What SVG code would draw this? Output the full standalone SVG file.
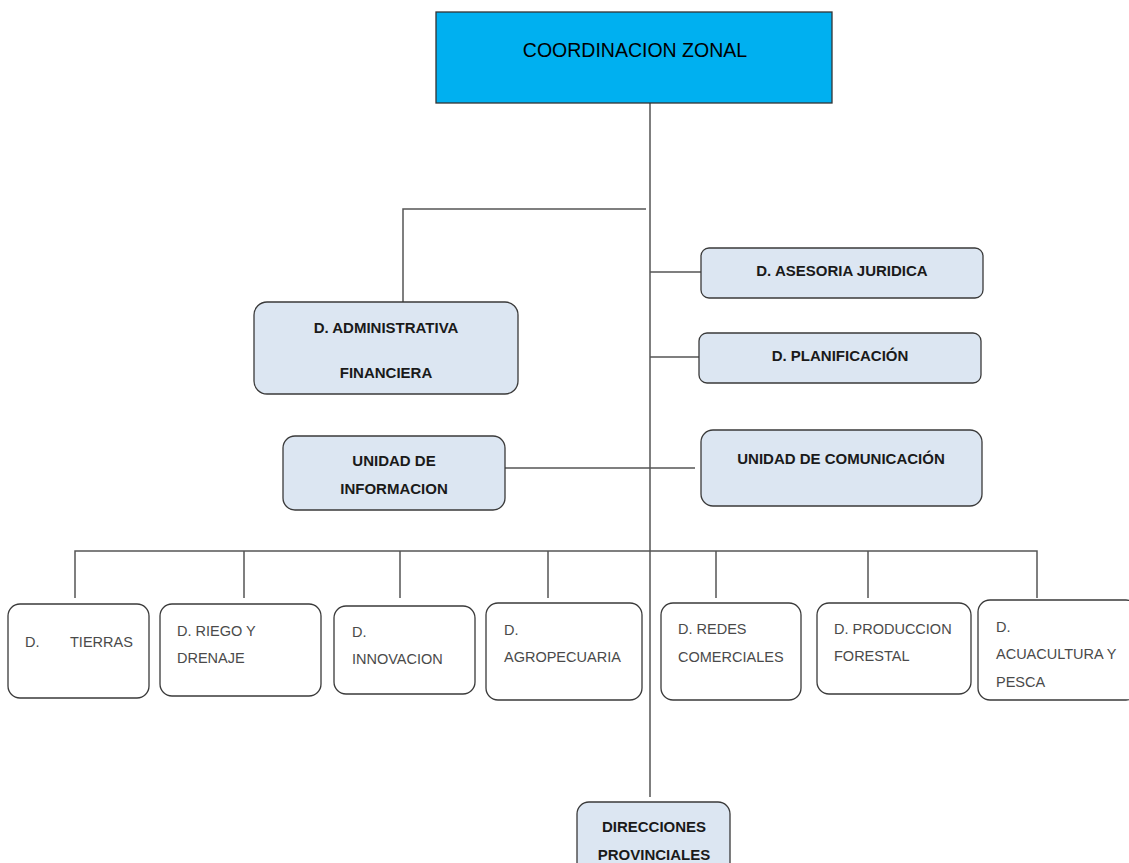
<svg xmlns="http://www.w3.org/2000/svg" width="1129" height="863" viewBox="0 0 1129 863">
<style>
.bx{fill:#dce6f2;stroke:#3a3a3a;stroke-width:1.3}
.wb{fill:#ffffff;stroke:#3a3a3a;stroke-width:1.3}
.tb{font-family:"Liberation Sans",Arial,sans-serif;font-weight:bold;font-size:15px;fill:#1a1a1a;text-anchor:middle}
.tw{font-family:"Liberation Sans",Arial,sans-serif;font-size:14.5px;fill:#4a4a4a}
.ln{stroke:#555555;stroke-width:1.5;fill:none}
</style>
<rect width="1129" height="863" fill="#ffffff"/>
<g id="connectors">
<path class="ln" d="M650 103 V797"/>
<path class="ln" d="M646 209 H403 V302"/>
<path class="ln" d="M650 272 H701"/>
<path class="ln" d="M650 357 H699"/>
<path class="ln" d="M505 468 H695"/>
<path class="ln" d="M75 598 V551 H1037 V598"/>
<path class="ln" d="M244 551 V598 M400 551 V598 M548 551 V598 M716 551 V598 M868 551 V598"/>
</g>
<g id="coordinacion">
<rect x="436" y="12" width="396" height="91" fill="#00b0f0" stroke="#333333" stroke-width="1.3"/>
<text x="635" y="57" font-family="Liberation Sans,Arial,sans-serif" font-size="19.5" fill="#000000" text-anchor="middle">COORDINACION ZONAL</text>
</g>
<g id="administrativa">
<rect class="bx" x="254" y="302" width="264" height="92" rx="13"/>
<text class="tb" x="386" y="333">D. ADMINISTRATIVA</text>
<text class="tb" x="386" y="378">FINANCIERA</text>
</g>
<g id="asesoria">
<rect class="bx" x="701" y="248" width="282" height="50" rx="8"/>
<text class="tb" x="842" y="276">D. ASESORIA JURIDICA</text>
</g>
<g id="planificacion">
<rect class="bx" x="699" y="333" width="282" height="50" rx="8"/>
<text class="tb" x="840" y="361">D. PLANIFICACIÓN</text>
</g>
<g id="comunicacion">
<rect class="bx" x="701" y="430" width="281" height="76" rx="12"/>
<text class="tb" x="841" y="464">UNIDAD DE COMUNICACIÓN</text>
</g>
<g id="informacion">
<rect class="bx" x="283" y="436" width="222" height="74" rx="12"/>
<text class="tb" x="394" y="466">UNIDAD DE</text>
<text class="tb" x="394" y="494">INFORMACION</text>
</g>
<g id="tierras">
<rect class="wb" x="8" y="604" width="141" height="94" rx="12"/>
<text class="tw" x="25" y="647">D.</text>
<text class="tw" x="70" y="647">TIERRAS</text>
</g>
<g id="riego">
<rect class="wb" x="160" y="604" width="161" height="92" rx="12"/>
<text class="tw" x="177" y="636">D. RIEGO Y</text>
<text class="tw" x="177" y="663">DRENAJE</text>
</g>
<g id="innovacion">
<rect class="wb" x="334" y="606" width="141" height="88" rx="12"/>
<text class="tw" x="352" y="637">D.</text>
<text class="tw" x="352" y="664">INNOVACION</text>
</g>
<g id="agropecuaria">
<rect class="wb" x="486" y="603" width="156" height="97" rx="12"/>
<text class="tw" x="504" y="635">D.</text>
<text class="tw" x="504" y="662">AGROPECUARIA</text>
</g>
<g id="redes">
<rect class="wb" x="661" y="603" width="140" height="97" rx="12"/>
<text class="tw" x="678" y="634">D. REDES</text>
<text class="tw" x="678" y="662">COMERCIALES</text>
</g>
<g id="forestal">
<rect class="wb" x="817" y="603" width="154" height="91" rx="12"/>
<text class="tw" x="834" y="634">D. PRODUCCION</text>
<text class="tw" x="834" y="661">FORESTAL</text>
</g>
<g id="acuacultura">
<rect class="wb" x="978" y="600" width="160" height="100" rx="12"/>
<text class="tw" x="996" y="632">D.</text>
<text class="tw" x="996" y="659">ACUACULTURA Y</text>
<text class="tw" x="996" y="687">PESCA</text>
</g>
<g id="provinciales">
<rect class="bx" x="577" y="802" width="153" height="75" rx="12"/>
<text class="tb" x="654" y="832">DIRECCIONES</text>
<text class="tb" x="654" y="860">PROVINCIALES</text>
</g>
</svg>
